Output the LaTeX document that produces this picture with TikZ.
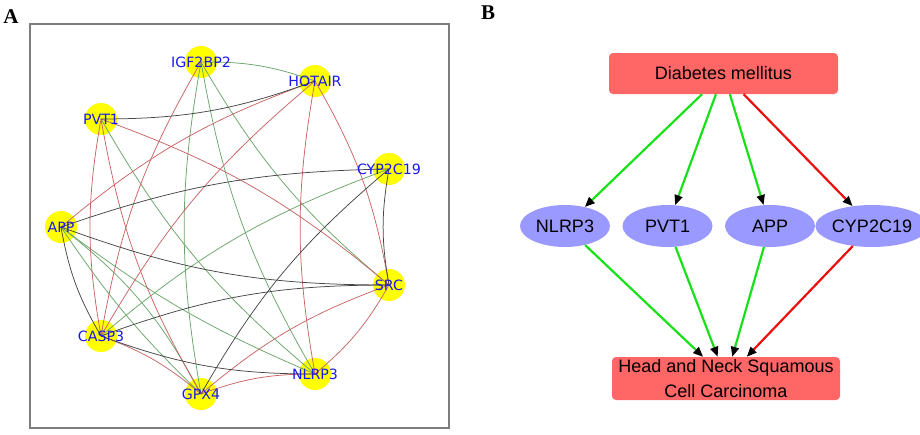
\documentclass[tikz,border=0pt]{standalone}
\usepackage{fontspec}
\setmainfont{Liberation Serif}
\newfontfamily\labfont{DejaVu Sans}
\newfontfamily\arialfont{Liberation Sans}
\usetikzlibrary{arrows.meta,shapes.geometric}
\definecolor{gedge}{RGB}{105,165,105}
\definecolor{redge}{RGB}{200,100,100}
\definecolor{kedge}{RGB}{70,70,70}
\definecolor{nodeyellow}{RGB}{255,255,0}
\definecolor{labblue}{RGB}{25,25,235}
\definecolor{boxred}{RGB}{255,102,102}
\definecolor{ellblue}{RGB}{153,153,255}
\definecolor{arrgreen}{RGB}{25,225,25}
\definecolor{arrred}{RGB}{235,15,15}
\definecolor{framegray}{RGB}{125,125,125}
\tikzset{
  gnode/.style={circle,fill=nodeyellow,draw=none,minimum size=32pt,inner sep=0pt},
  glab/.style={font=\labfont\fontsize{14.2}{15}\selectfont,text=labblue,inner sep=0pt},
  gE/.style={draw=gedge,line width=0.75pt},
  rE/.style={draw=redge,line width=0.75pt},
  kE/.style={draw=kedge,line width=0.75pt},
  topbox/.style={rectangle,rounded corners=4pt,fill=boxred,draw=none,minimum width=229pt,minimum height=41pt,inner sep=0pt,font=\arialfont\fontsize{18}{25}\selectfont,align=center},
  ellnode/.style={ellipse,fill=ellblue,draw=none,minimum width=90pt,minimum height=42pt,inner sep=0pt,font=\arialfont\fontsize{18}{22}\selectfont},
  garrow/.style={draw=arrgreen,line width=2.2pt,-{Triangle[length=10pt,width=8pt,color=black]}},
  rarrow/.style={draw=arrred,line width=2.2pt,-{Triangle[length=10pt,width=8pt,color=black]}},
  panellab/.style={font=\bfseries\fontsize{21}{22}\selectfont,inner sep=0pt}
}
\begin{document}
\begin{tikzpicture}[x=1pt,y=1pt]
\useasboundingbox (0,0) rectangle (920,-434);
% ---------------- Panel A ----------------
\node[panellab] (labA) at (11,-16.5) {A};
\draw[framegray,line width=1.3pt] (30,-24) rectangle (449,-428);
\node[gnode] (igf)  at (201,-62)  {};
\node[gnode] (hot)  at (315,-81)  {};
\node[gnode] (pvt)  at (101,-119) {};
\node[gnode] (cyp)  at (389,-169) {};
\node[gnode] (app)  at (61,-227)  {};
\node[gnode] (src)  at (389,-285) {};
\node[gnode] (casp) at (101,-336) {};
\node[gnode] (nlrp) at (315,-374) {};
\node[gnode] (gpx)  at (201,-394) {};
% green edges
\draw[gE] (igf.center) to[bend right=10] (gpx.center);
\draw[gE] (igf.center) to[bend right=10] (nlrp.center);
\draw[gE] (igf.center) to[bend right=10] (src.center);
\draw[gE] (hot.center) to[bend right=10] (igf.center);
\draw[gE] (pvt.center) to[bend right=10] (nlrp.center);
\draw[gE] (cyp.center) to[bend right=10] (casp.center);
\draw[gE] (app.center) to[bend right=7] (nlrp.center);
\draw[gE] (app.center) to[bend right=6] (gpx.center);
\draw[gE] (app.center) to[bend left=12] (gpx.center);
% red edges
\draw[rE] (igf.center) to[bend right=10] (casp.center);
\draw[rE] (hot.center) to[bend right=10] (app.center);
\draw[rE] (hot.center) to[bend right=10] (casp.center);
\draw[rE] (hot.center) to[bend right=10] (nlrp.center);
\draw[rE] (src.center) to[bend right=10] (hot.center);
\draw[rE] (pvt.center) to[bend right=10] (casp.center);
\draw[rE] (pvt.center) to[bend right=10] (gpx.center);
\draw[rE] (src.center) to[bend right=10] (pvt.center);
\draw[rE] (src.center) to[bend right=10] (gpx.center);
\draw[rE] (nlrp.center) to[bend right=10] (src.center);
\draw[rE] (gpx.center) to[bend right=10] (casp.center);
\draw[rE] (nlrp.center) to[bend right=10] (gpx.center);
% black edges
\draw[kE] (pvt.center) to[bend right=10] (hot.center);
\draw[kE] (cyp.center) to[bend right=9] (app.center);
\draw[kE] (cyp.center) to[bend right=10] (gpx.center);
\draw[kE] (cyp.center) to[bend right=10] (src.center);
\draw[kE] (app.center) to[bend right=10] (src.center);
\draw[kE] (app.center) to[bend right=10] (casp.center);
\draw[kE] (src.center) to[bend right=10] (casp.center);
\draw[kE] (casp.center) to[bend right=10] (nlrp.center);
% labels
\node[glab] (igfL)  at (igf)  {IGF2BP2};
\node[glab] (hotL)  at (hot)  {HOTAIR};
\node[glab] (pvtL)  at (pvt)  {PVT1};
\node[glab] (cypL)  at (cyp)  {CYP2C19};
\node[glab] (appL)  at (app)  {APP};
\node[glab] (srcL)  at (src)  {SRC};
\node[glab] (caspL) at (casp) {CASP3};
\node[glab] (nlrpL) at (nlrp) {NLRP3};
\node[glab] (gpxL)  at (gpx)  {GPX4};
% ---------------- Panel B ----------------
\node[panellab] (labB) at (488,-12.5) {B};
\node[topbox] (dm) at (723.5,-73.5) {Diabetes mellitus};
\node[ellnode] (bn) at (565,-226)   {NLRP3};
\node[ellnode] (bp) at (667.5,-226) {PVT1};
\node[ellnode] (ba) at (770,-226)   {APP};
\node[ellnode] (bc) at (872,-226)   {CYP2C19};
\node[topbox,minimum width=228pt,minimum height=43pt] (hn) at (726,-378.5) {Head and Neck Squamous\\Cell Carcinoma};
\draw[garrow] (dm) -- (bn);
\draw[garrow] (dm) -- (bp);
\draw[garrow] (dm) -- (ba);
\draw[rarrow] (dm) -- (bc);
\draw[garrow] (bn) -- (hn);
\draw[garrow] (bp) -- (hn);
\draw[garrow] (ba) -- (hn);
\draw[rarrow] (bc) -- (hn);
\end{tikzpicture}
\end{document}
